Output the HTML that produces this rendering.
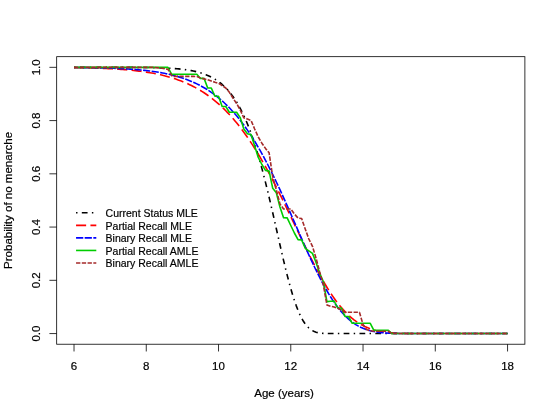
<!DOCTYPE html>
<html><head><meta charset="utf-8"><title>Survival curves</title>
<style>html,body{margin:0;padding:0;background:#fff}body{width:554px;height:415px;overflow:hidden;font-family:"Liberation Sans",sans-serif}</style>
</head><body>
<svg width="554" height="415" viewBox="0 0 554 415" style="display:block;will-change:transform">
<rect width="554" height="415" fill="#fff"/>
<g fill="none" stroke-linecap="butt" stroke-linejoin="round">
<path d="M74.02,67.33 L75.83,67.33 L77.63,67.33 L79.44,67.33 L81.25,67.33 L83.05,67.33 L84.86,67.33 L86.66,67.33 L88.47,67.33 L90.28,67.33 L92.08,67.33 L93.89,67.33 L95.70,67.33 L97.50,67.33 L99.31,67.34 L101.12,67.34 L102.92,67.34 L104.73,67.34 L106.53,67.34 L108.34,67.34 L110.15,67.34 L111.95,67.35 L113.76,67.35 L115.57,67.35 L117.37,67.36 L119.18,67.36 L120.99,67.36 L122.79,67.37 L124.60,67.38 L126.40,67.38 L128.21,67.39 L130.02,67.40 L131.82,67.41 L133.63,67.42 L135.44,67.43 L137.24,67.44 L139.05,67.46 L140.86,67.47 L142.66,67.49 L144.47,67.51 L146.27,67.54 L148.08,67.56 L149.89,67.59 L151.69,67.62 L153.50,67.66 L155.31,67.70 L157.11,67.75 L158.92,67.80 L160.73,67.86 L162.53,67.92 L164.34,67.99 L166.14,68.07 L167.95,68.15 L169.76,68.25 L171.56,68.36 L173.37,68.48 L175.18,68.61 L176.98,68.75 L178.79,68.91 L180.60,69.09 L182.40,69.29 L184.21,69.51 L186.01,69.75 L187.82,70.01 L189.63,70.30 L191.43,70.63 L193.24,70.98 L195.05,71.37 L196.85,71.80 L198.66,72.27 L200.47,72.79 L202.27,73.36 L204.08,73.98 L205.88,74.66 L207.69,75.41 L209.50,76.23 L211.30,77.12 L213.11,78.10 L214.92,79.16 L216.72,80.33 L218.53,81.59 L220.34,82.97 L222.14,84.48 L223.95,86.11 L225.75,87.88 L227.56,89.80 L229.37,91.88 L231.17,94.13 L232.98,96.56 L234.79,99.18 L236.59,102.01 L238.40,105.05 L240.21,108.32 L242.01,111.83 L243.82,115.58 L245.62,119.60 L247.43,123.88 L249.24,128.43 L251.04,133.27 L252.85,138.40 L254.66,143.82 L256.46,149.54 L258.27,155.55 L260.08,161.84 L261.88,168.41 L263.69,175.25 L265.49,182.35 L267.30,189.67 L269.11,197.21 L270.91,204.92 L272.72,212.77 L274.53,220.73 L276.33,228.74 L278.14,236.76 L279.95,244.74 L281.75,252.63 L283.56,260.36 L285.36,267.87 L287.17,275.12 L288.98,282.05 L290.78,288.60 L292.59,294.74 L294.40,300.42 L296.20,305.61 L298.01,310.29 L299.82,314.47 L301.62,318.13 L303.43,321.29 L305.23,323.97 L307.04,326.20 L308.85,328.03 L310.65,329.49 L312.46,330.63 L314.27,331.51 L316.07,332.16 L317.88,332.63 L319.69,332.96 L321.49,333.19 L323.30,333.34 L325.11,333.43 L326.91,333.49 L328.72,333.53 L330.52,333.55 L332.33,333.56 L334.14,333.56 L335.94,333.57 L337.75,333.57 L339.56,333.57 L341.36,333.57 L343.17,333.57 L344.98,333.57 L346.78,333.57 L348.59,333.57 L350.39,333.57 L352.20,333.57 L354.01,333.57 L355.81,333.57 L357.62,333.57 L507.55,333.57" stroke="#000" stroke-width="1.6" stroke-dasharray="1.44 4.32 5.76 4.32"/>
<path d="M74.02,67.65 L75.83,67.67 L77.63,67.70 L79.44,67.73 L81.25,67.76 L83.05,67.80 L84.86,67.83 L86.66,67.87 L88.47,67.91 L90.28,67.96 L92.08,68.01 L93.89,68.06 L95.70,68.11 L97.50,68.17 L99.31,68.23 L101.12,68.30 L102.92,68.37 L104.73,68.44 L106.53,68.52 L108.34,68.60 L110.15,68.69 L111.95,68.78 L113.76,68.88 L115.57,68.99 L117.37,69.10 L119.18,69.22 L120.99,69.35 L122.79,69.48 L124.60,69.62 L126.40,69.77 L128.21,69.93 L130.02,70.10 L131.82,70.27 L133.63,70.46 L135.44,70.66 L137.24,70.87 L139.05,71.09 L140.86,71.32 L142.66,71.56 L144.47,71.82 L146.27,72.09 L148.08,72.37 L149.89,72.67 L151.69,72.99 L153.50,73.32 L155.31,73.67 L157.11,74.04 L158.92,74.42 L160.73,74.83 L162.53,75.25 L164.34,75.70 L166.14,76.17 L167.95,76.66 L169.76,77.17 L171.56,77.71 L173.37,78.27 L175.18,78.86 L176.98,79.48 L178.79,80.13 L180.60,80.80 L182.40,81.51 L184.21,82.25 L186.01,83.02 L187.82,83.82 L189.63,84.66 L191.43,85.54 L193.24,86.45 L195.05,87.40 L196.85,88.40 L198.66,89.43 L200.47,90.50 L202.27,91.62 L204.08,92.79 L205.88,94.00 L207.69,95.26 L209.50,96.56 L211.30,97.92 L213.11,99.33 L214.92,100.79 L216.72,102.31 L218.53,103.88 L220.34,105.50 L222.14,107.18 L223.95,108.93 L225.75,110.73 L227.56,112.59 L229.37,114.51 L231.17,116.50 L232.98,118.54 L234.79,120.66 L236.59,122.83 L238.40,125.08 L240.21,127.39 L242.01,129.76 L243.82,132.20 L245.62,134.71 L247.43,137.29 L249.24,139.93 L251.04,142.64 L252.85,145.42 L254.66,148.26 L256.46,151.17 L258.27,154.14 L260.08,157.18 L261.88,160.28 L263.69,163.44 L265.49,166.66 L267.30,169.93 L269.11,173.27 L270.91,176.65 L272.72,180.09 L274.53,183.58 L276.33,187.11 L278.14,190.68 L279.95,194.30 L281.75,197.95 L283.56,201.63 L285.36,205.34 L287.17,209.08 L288.98,212.83 L290.78,216.60 L292.59,220.38 L294.40,224.17 L296.20,227.96 L298.01,231.74 L299.82,235.51 L301.62,239.27 L303.43,243.00 L305.23,246.72 L307.04,250.39 L308.85,254.04 L310.65,257.63 L312.46,261.18 L314.27,264.68 L316.07,268.12 L317.88,271.49 L319.69,274.79 L321.49,278.02 L323.30,281.17 L325.11,284.24 L326.91,287.22 L328.72,290.11 L330.52,292.91 L332.33,295.60 L334.14,298.20 L335.94,300.70 L337.75,303.09 L339.56,305.38 L341.36,307.56 L343.17,309.63 L344.98,311.60 L346.78,313.45 L348.59,315.21 L350.39,316.86 L352.20,318.40 L354.01,319.85 L355.81,321.19 L357.62,322.44 L359.43,323.59 L361.23,324.66 L363.04,325.64 L364.85,326.54 L366.65,327.35 L368.46,328.10 L370.26,328.77 L372.07,329.38 L373.88,329.92 L375.68,330.41 L377.49,330.84 L379.30,331.23 L381.10,331.57 L382.91,331.86 L384.72,332.12 L386.52,332.35 L388.33,332.55 L390.13,332.72 L391.94,332.86 L393.75,332.98 L395.55,333.09 L397.36,333.18 L399.17,333.25 L400.97,333.31 L402.78,333.36 L404.59,333.40 L406.39,333.44 L408.20,333.47 L410.00,333.49 L411.81,333.51 L413.62,333.52 L415.42,333.53 L417.23,333.54 L419.04,333.55 L420.84,333.55 L422.65,333.56 L424.46,333.56 L426.26,333.56 L428.07,333.56 L429.87,333.56 L431.68,333.57 L433.49,333.57 L435.29,333.57 L437.10,333.57 L438.91,333.57 L440.71,333.57 L442.52,333.57 L444.33,333.57 L446.13,333.57 L447.94,333.57 L449.74,333.57 L451.55,333.57 L453.36,333.57 L455.16,333.57 L456.97,333.57 L458.78,333.57 L460.58,333.57 L462.39,333.57 L464.20,333.57 L466.00,333.57 L467.81,333.57 L469.61,333.57 L471.42,333.57 L473.23,333.57 L475.03,333.57 L476.84,333.57 L478.65,333.57 L480.45,333.57 L482.26,333.57 L484.07,333.57 L507.55,333.57" stroke="#ff0000" stroke-width="1.6" stroke-dasharray="10.08 4.32"/>
<path d="M74.02,67.49 L75.83,67.51 L77.63,67.52 L79.44,67.54 L81.25,67.56 L83.05,67.58 L84.86,67.60 L86.66,67.62 L88.47,67.65 L90.28,67.68 L92.08,67.71 L93.89,67.74 L95.70,67.77 L97.50,67.81 L99.31,67.84 L101.12,67.88 L102.92,67.93 L104.73,67.98 L106.53,68.03 L108.34,68.08 L110.15,68.14 L111.95,68.20 L113.76,68.27 L115.57,68.34 L117.37,68.41 L119.18,68.49 L120.99,68.58 L122.79,68.67 L124.60,68.77 L126.40,68.87 L128.21,68.98 L130.02,69.10 L131.82,69.22 L133.63,69.35 L135.44,69.49 L137.24,69.64 L139.05,69.80 L140.86,69.97 L142.66,70.14 L144.47,70.33 L146.27,70.53 L148.08,70.75 L149.89,70.97 L151.69,71.21 L153.50,71.46 L155.31,71.72 L157.11,72.00 L158.92,72.30 L160.73,72.61 L162.53,72.94 L164.34,73.29 L166.14,73.66 L167.95,74.05 L169.76,74.46 L171.56,74.89 L173.37,75.35 L175.18,75.82 L176.98,76.33 L178.79,76.86 L180.60,77.41 L182.40,78.00 L184.21,78.61 L186.01,79.26 L187.82,79.94 L189.63,80.65 L191.43,81.40 L193.24,82.18 L195.05,83.00 L196.85,83.86 L198.66,84.76 L200.47,85.70 L202.27,86.69 L204.08,87.72 L205.88,88.80 L207.69,89.93 L209.50,91.10 L211.30,92.33 L213.11,93.61 L214.92,94.95 L216.72,96.34 L218.53,97.79 L220.34,99.30 L222.14,100.87 L223.95,102.51 L225.75,104.21 L227.56,105.97 L229.37,107.80 L231.17,109.71 L232.98,111.68 L234.79,113.72 L236.59,115.84 L238.40,118.04 L240.21,120.30 L242.01,122.65 L243.82,125.07 L245.62,127.57 L247.43,130.15 L249.24,132.81 L251.04,135.55 L252.85,138.37 L254.66,141.26 L256.46,144.24 L258.27,147.30 L260.08,150.44 L261.88,153.65 L263.69,156.94 L265.49,160.31 L267.30,163.75 L269.11,167.26 L270.91,170.84 L272.72,174.49 L274.53,178.20 L276.33,181.97 L278.14,185.80 L279.95,189.69 L281.75,193.62 L283.56,197.60 L285.36,201.62 L287.17,205.68 L288.98,209.76 L290.78,213.87 L292.59,218.00 L294.40,222.14 L296.20,226.29 L298.01,230.43 L299.82,234.57 L301.62,238.69 L303.43,242.79 L305.23,246.86 L307.04,250.89 L308.85,254.88 L310.65,258.82 L312.46,262.70 L314.27,266.51 L316.07,270.25 L317.88,273.90 L319.69,277.48 L321.49,280.95 L323.30,284.33 L325.11,287.61 L326.91,290.77 L328.72,293.83 L330.52,296.76 L332.33,299.57 L334.14,302.26 L335.94,304.82 L337.75,307.25 L339.56,309.55 L341.36,311.72 L343.17,313.76 L344.98,315.67 L346.78,317.46 L348.59,319.12 L350.39,320.66 L352.20,322.08 L354.01,323.38 L355.81,324.58 L357.62,325.67 L359.43,326.65 L361.23,327.54 L363.04,328.35 L364.85,329.06 L366.65,329.70 L368.46,330.26 L370.26,330.76 L372.07,331.20 L373.88,331.57 L375.68,331.90 L377.49,332.18 L379.30,332.43 L381.10,332.63 L382.91,332.80 L384.72,332.95 L386.52,333.07 L388.33,333.17 L390.13,333.25 L391.94,333.32 L393.75,333.37 L395.55,333.42 L397.36,333.45 L399.17,333.48 L400.97,333.50 L402.78,333.52 L404.59,333.53 L406.39,333.54 L408.20,333.55 L410.00,333.55 L411.81,333.56 L413.62,333.56 L415.42,333.56 L417.23,333.56 L419.04,333.57 L420.84,333.57 L422.65,333.57 L424.46,333.57 L426.26,333.57 L428.07,333.57 L429.87,333.57 L431.68,333.57 L433.49,333.57 L435.29,333.57 L437.10,333.57 L438.91,333.57 L440.71,333.57 L442.52,333.57 L444.33,333.57 L446.13,333.57 L447.94,333.57 L449.74,333.57 L451.55,333.57 L453.36,333.57 L455.16,333.57 L456.97,333.57 L458.78,333.57 L460.58,333.57 L462.39,333.57 L464.20,333.57 L466.00,333.57 L507.55,333.57" stroke="#0000ff" stroke-width="1.6" stroke-dasharray="7.20 1.44"/>
<path d="M74.02,67.33 L167.95,67.33 L171.56,74.20 L196.85,74.20 L200.47,78.40 L204.08,78.40 L207.69,88.00 L211.30,88.00 L214.92,96.30 L218.53,96.30 L222.14,106.50 L225.75,106.50 L229.37,112.20 L236.59,112.20 L240.21,117.60 L243.82,129.00 L247.43,133.70 L251.04,134.60 L254.66,146.00 L258.27,157.40 L261.88,164.50 L265.49,170.40 L269.11,171.10 L272.72,188.30 L276.33,192.80 L279.95,207.00 L283.56,217.70 L287.17,217.90 L290.78,225.50 L294.40,233.00 L298.01,239.70 L301.62,239.90 L305.23,248.30 L308.85,250.80 L312.46,253.40 L316.07,262.50 L319.69,273.20 L323.30,281.50 L326.91,301.60 L330.52,301.30 L334.14,301.00 L337.75,308.00 L341.36,308.00 L344.98,316.50 L348.59,316.50 L352.20,323.30 L370.26,323.30 L373.88,330.30 L388.33,330.30 L391.94,333.57 L507.55,333.57" stroke="#00cd00" stroke-width="1.6"/>
<path d="M74.02,67.33 L153.50,67.33 L160.73,68.00 L167.95,69.40 L172.29,76.40 L193.24,76.40 L196.85,76.60 L200.47,77.90 L204.08,78.90 L207.69,79.80 L211.30,81.00 L214.92,82.20 L218.53,83.30 L222.14,85.60 L225.75,88.00 L229.37,92.30 L232.98,98.20 L236.59,103.50 L240.21,110.00 L243.82,117.80 L247.43,119.00 L251.04,120.40 L254.66,129.00 L258.27,137.00 L261.88,143.20 L265.49,148.40 L269.11,152.80 L272.72,177.00 L276.33,190.00 L279.95,203.90 L283.56,209.00 L290.78,209.00 L294.40,214.00 L298.01,218.00 L301.62,218.50 L305.23,229.00 L308.85,239.00 L312.46,246.30 L316.07,258.30 L319.69,272.00 L323.30,284.50 L326.91,304.90 L330.52,306.20 L334.14,307.00 L337.75,308.20 L341.36,310.00 L344.98,312.30 L359.43,312.30 L363.04,324.50 L366.65,329.60 L370.26,330.80 L373.88,331.30 L388.33,331.30 L391.94,333.57 L507.55,333.57" stroke="#a52a2a" stroke-width="1.6" stroke-dasharray="4.32 1.44"/>
</g>
<g fill="none" stroke="#000" stroke-width="0.8">
<rect x="56.68" y="56.68" width="468.21" height="287.54"/>
<path d="M74.02,344.22v7.25"/>
<path d="M146.27,344.22v7.25"/>
<path d="M218.53,344.22v7.25"/>
<path d="M290.78,344.22v7.25"/>
<path d="M363.04,344.22v7.25"/>
<path d="M435.29,344.22v7.25"/>
<path d="M507.55,344.22v7.25"/>
<path d="M56.68,333.57h-7.25"/>
<path d="M56.68,280.32h-7.25"/>
<path d="M56.68,227.07h-7.25"/>
<path d="M56.68,173.82h-7.25"/>
<path d="M56.68,120.58h-7.25"/>
<path d="M56.68,67.33h-7.25"/>
</g>
<g font-family="Liberation Sans, sans-serif" font-size="11.52" fill="#000" stroke="#000" stroke-width="0.2" text-anchor="middle">
<text x="74.02" y="369.70">6</text>
<text x="146.27" y="369.70">8</text>
<text x="218.53" y="369.70">10</text>
<text x="290.78" y="369.70">12</text>
<text x="363.04" y="369.70">14</text>
<text x="435.29" y="369.70">16</text>
<text x="507.55" y="369.70">18</text>
<text transform="translate(40.09,333.57) rotate(-90)">0.0</text>
<text transform="translate(40.09,280.32) rotate(-90)">0.2</text>
<text transform="translate(40.09,227.07) rotate(-90)">0.4</text>
<text transform="translate(40.09,173.82) rotate(-90)">0.6</text>
<text transform="translate(40.09,120.58) rotate(-90)">0.8</text>
<text transform="translate(40.09,67.33) rotate(-90)">1.0</text>
<text x="284.0" y="396.75">Age (years)</text>
<text transform="translate(12.44,200.45) rotate(-90)">Probability of no menarche</text>
</g>
<g fill="none" stroke-linecap="butt">
<path d="M76.05,212.8H96.3" stroke="#000" stroke-width="1.6" stroke-dasharray="1.44 4.32 5.76 4.32"/>
<path d="M76.05,225.35H96.3" stroke="#ff0000" stroke-width="1.6" stroke-dasharray="10.08 4.32"/>
<path d="M76.05,237.9H96.3" stroke="#0000ff" stroke-width="1.6" stroke-dasharray="7.20 1.44"/>
<path d="M76.05,250.45H96.3" stroke="#00cd00" stroke-width="1.6"/>
<path d="M76.05,263.0H96.3" stroke="#a52a2a" stroke-width="1.6" stroke-dasharray="4.32 1.44"/>
</g>
<g font-family="Liberation Sans, sans-serif" font-size="10.5" fill="#000" stroke="#000" stroke-width="0.18">
<text x="105.6" y="216.96">Current Status MLE</text>
<text x="105.6" y="229.51">Partial Recall MLE</text>
<text x="105.6" y="242.06">Binary Recall MLE</text>
<text x="105.6" y="254.61">Partial Recall AMLE</text>
<text x="105.6" y="267.16">Binary Recall AMLE</text>
</g>
</svg>
</body></html>
